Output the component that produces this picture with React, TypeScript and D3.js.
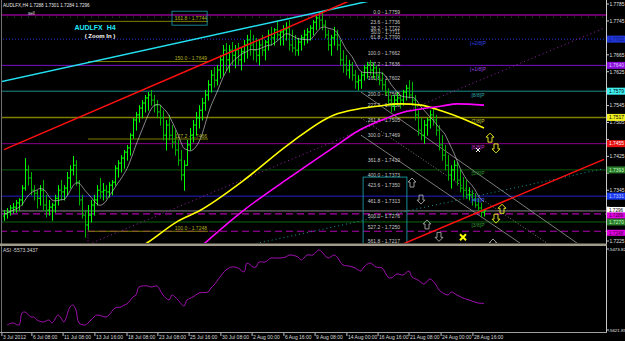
import React, { useEffect } from "react";
import * as d3 from "d3";

// ---- price bars (H4, AUDLFX) ----
const highs = [
  1.7298,1.7303,1.7310,1.7315,1.7322,1.7326,1.7357,1.7421,1.7404,1.7388,
  1.7357,1.7345,1.7357,1.7369,1.7334,1.7322,1.7315,1.7334,1.7357,1.7369,
  1.7357,1.7388,1.7404,1.7426,1.7416,1.7369,1.7334,1.7298,1.7310,1.7322,
  1.7334,1.7357,1.7374,1.7362,1.7357,1.7364,1.7369,1.7404,1.7416,1.7428,
  1.7440,1.7452,1.7480,1.7516,1.7530,1.7546,1.7558,1.7570,1.7577,1.7582,
  1.7570,1.7558,1.7546,1.7534,1.7511,1.7523,1.7499,1.7487,1.7464,1.7440,
  1.7416,1.7464,1.7492,1.7511,1.7530,1.7546,1.7563,1.7582,1.7605,1.7629,
  1.7636,1.7641,1.7664,1.7688,1.7693,1.7688,1.7695,1.7688,1.7693,1.7681,
  1.7700,1.7712,1.7724,1.7712,1.7705,1.7700,1.7712,1.7700,1.7724,1.7731,
  1.7728,1.7747,1.7724,1.7735,1.7742,1.7747,1.7724,1.7712,1.7705,1.7712,
  1.7724,1.7728,1.7735,1.7747,1.7759,1.7766,1.7764,1.7747,1.7724,1.7712,
  1.7731,1.7724,1.7700,1.7676,1.7664,1.7653,1.7648,1.7629,1.7617,1.7624,
  1.7641,1.7648,1.7653,1.7646,1.7641,1.7634,1.7624,1.7605,1.7586,1.7570,
  1.7570,1.7577,1.7570,1.7582,1.7594,1.7605,1.7601,1.7570,1.7534,1.7516,
  1.7511,1.7516,1.7534,1.7539,1.7523,1.7499,1.7475,1.7452,1.7428,1.7404,
  1.7416,1.7412,1.7393,1.7376,1.7369,1.7352,1.7345,1.7338,1.7326,1.7315,
  1.7301,
];
const lows = [
  1.7274,1.7279,1.7286,1.7291,1.7293,1.7298,1.7310,1.7345,1.7357,1.7334,
  1.7322,1.7303,1.7310,1.7298,1.7282,1.7286,1.7274,1.7293,1.7310,1.7322,
  1.7322,1.7334,1.7350,1.7381,1.7357,1.7310,1.7279,1.7234,1.7251,1.7270,
  1.7286,1.7310,1.7326,1.7322,1.7326,1.7329,1.7334,1.7357,1.7376,1.7388,
  1.7397,1.7416,1.7428,1.7468,1.7487,1.7506,1.7516,1.7530,1.7534,1.7546,
  1.7530,1.7516,1.7499,1.7464,1.7440,1.7464,1.7445,1.7428,1.7404,1.7369,
  1.7345,1.7404,1.7440,1.7459,1.7475,1.7492,1.7511,1.7534,1.7558,1.7577,
  1.7589,1.7594,1.7610,1.7617,1.7629,1.7624,1.7641,1.7634,1.7641,1.7629,
  1.7648,1.7657,1.7664,1.7653,1.7648,1.7641,1.7664,1.7653,1.7676,1.7688,
  1.7688,1.7700,1.7688,1.7688,1.7700,1.7676,1.7672,1.7664,1.7664,1.7676,
  1.7688,1.7693,1.7700,1.7712,1.7724,1.7728,1.7724,1.7705,1.7676,1.7664,
  1.7688,1.7676,1.7641,1.7624,1.7617,1.7610,1.7605,1.7586,1.7582,1.7586,
  1.7605,1.7610,1.7617,1.7610,1.7605,1.7594,1.7582,1.7570,1.7546,1.7530,
  1.7534,1.7546,1.7539,1.7546,1.7558,1.7563,1.7546,1.7511,1.7475,1.7464,
  1.7456,1.7475,1.7492,1.7499,1.7475,1.7440,1.7416,1.7393,1.7369,1.7350,
  1.7369,1.7357,1.7341,1.7329,1.7326,1.7322,1.7310,1.7305,1.7293,1.7282,
  1.7284,
];
const closes = [
  1.7289,1.7293,1.7303,1.7305,1.7315,1.7322,1.7350,1.7393,1.7374,1.7345,
  1.7338,1.7326,1.7345,1.7310,1.7298,1.7305,1.7310,1.7326,1.7345,1.7341,
  1.7350,1.7374,1.7393,1.7404,1.7364,1.7322,1.7286,1.7263,1.7286,1.7310,
  1.7322,1.7345,1.7341,1.7345,1.7341,1.7357,1.7364,1.7397,1.7409,1.7421,
  1.7435,1.7445,1.7475,1.7511,1.7523,1.7539,1.7551,1.7563,1.7570,1.7558,
  1.7546,1.7530,1.7516,1.7475,1.7499,1.7475,1.7459,1.7440,1.7416,1.7381,
  1.7404,1.7452,1.7475,1.7499,1.7516,1.7534,1.7551,1.7570,1.7594,1.7617,
  1.7605,1.7629,1.7653,1.7676,1.7653,1.7676,1.7664,1.7676,1.7653,1.7672,
  1.7688,1.7700,1.7688,1.7676,1.7664,1.7688,1.7676,1.7695,1.7712,1.7705,
  1.7724,1.7712,1.7719,1.7724,1.7728,1.7688,1.7681,1.7676,1.7695,1.7705,
  1.7712,1.7719,1.7728,1.7742,1.7752,1.7747,1.7735,1.7712,1.7688,1.7705,
  1.7712,1.7688,1.7653,1.7641,1.7629,1.7641,1.7617,1.7601,1.7605,1.7617,
  1.7634,1.7641,1.7629,1.7634,1.7617,1.7605,1.7594,1.7577,1.7558,1.7546,
  1.7558,1.7563,1.7558,1.7577,1.7586,1.7570,1.7558,1.7523,1.7487,1.7475,
  1.7499,1.7511,1.7523,1.7511,1.7487,1.7452,1.7428,1.7404,1.7381,1.7393,
  1.7404,1.7369,1.7350,1.7345,1.7334,1.7334,1.7322,1.7310,1.7303,1.7293,
  1.7296,
];
const firstOpen = 1.7284;
const header = ["AUDLFX,H4", "1.7288", "1.7301", "1.7284", "1.7296"];

// ---- long moving averages (read at bar indices) ----
const yellowBars = [42, 48, 58, 65, 80, 95, 110, 118, 125, 132, 139, 146, 154, 160];
const yellowVals = [1.7196, 1.7222, 1.7272, 1.7296, 1.7369, 1.7454, 1.7523, 1.7537, 1.7544, 1.7549, 1.7546, 1.7532, 1.7511, 1.7492];
const magentaBars = [62, 80, 95, 110, 118, 126, 132, 139, 146, 151, 160];
const magentaVals = [1.7189, 1.7298, 1.7374, 1.7447, 1.7485, 1.7511, 1.7527, 1.7537, 1.7544, 1.7549, 1.7546];

// ---- ASI indicator ----
const asiBars = [1,3,5,6,7,9,10,11,13,15,16,18,19,20,22,23,24,25,27,28,30,31,34,35,37,39,40,41,43,44,45,48,49,51,52,53,55,56,57,58,60,61,63,65,68,69,70,72,74,76,78,80,81,83,84,85,87,89,90,92,94,95,98,99,100,101,103,104,105,106,108,110,111,113,115,117,119,120,122,124,126,128,129,131,133,135,136,138,140,142,144,145,148,149,151,153,154,156,158,160];
const asiVals = [-5612.7,-5609.0,-5612.7,-5590.8,-5589.0,-5598.1,-5598.1,-5603.6,-5607.2,-5603.6,-5609.0,-5594.4,-5599.9,-5607.2,-5579.8,-5576.2,-5585.3,-5609.0,-5612.7,-5609.0,-5598.1,-5594.4,-5598.1,-5594.4,-5581.6,-5579.8,-5576.2,-5574.3,-5561.5,-5557.9,-5543.3,-5541.4,-5543.3,-5541.4,-5548.7,-5557.9,-5567.0,-5557.9,-5561.5,-5567.0,-5578.0,-5567.0,-5561.5,-5554.2,-5552.4,-5545.1,-5539.6,-5525.0,-5512.2,-5506.7,-5508.5,-5515.8,-5499.4,-5506.7,-5506.7,-5497.6,-5497.6,-5490.3,-5490.3,-5490.3,-5488.4,-5484.8,-5488.4,-5493.9,-5490.3,-5484.8,-5484.8,-5479.3,-5475.6,-5479.3,-5490.3,-5484.8,-5488.4,-5503.1,-5504.9,-5508.5,-5514.0,-5506.7,-5499.4,-5506.7,-5508.5,-5525.0,-5526.8,-5519.5,-5521.3,-5514.0,-5525.0,-5530.5,-5537.8,-5528.6,-5539.6,-5548.7,-5557.9,-5552.4,-5557.9,-5563.4,-5565.2,-5568.8,-5572.5,-5573.3];
const asiName = "ASI";
const asiCurrent = "-5573.3437";
const asiTop = -5473.82;
const asiBottom = -5621.85;

// ---- axes ----
const priceTicks = [1.7785,1.7745,1.7705,1.7665,1.7625,1.7585,1.7545,1.7505,1.7465,1.7425,1.7385,1.7345,1.7305,1.7265,1.7225];
const dateLabels = ["3 Jul 2012","6 Jul 08:00","11 Jul 08:00","13 Jul 16:00","18 Jul 08:00","23 Jul 08:00","25 Jul 16:00","30 Jul 08:00","2 Aug 00:00","6 Aug 16:00","9 Aug 08:00","14 Aug 00:00","16 Aug 16:00","21 Aug 08:00","24 Aug 00:00","28 Aug 16:00"];
const dateBars = [-0.7, 9.3, 19.7, 30.3, 41, 51.3, 61.7, 72.3, 82.7, 93.3, 103.7, 114.3, 124.7, 135, 145.7, 156.3];

// ---- Fibonacci expansion (right) ----
const fibLevels = ["0.0","23.6","38.2","50.0","61.8","100.0","127.2","161.8","200.0","227.2","261.8","300.0","361.8","400.0","423.6","461.8","500.0","527.2","561.8"];
const fibPrices = [1.7759,1.7736,1.7722,1.7711,1.7700,1.7662,1.7636,1.7602,1.7565,1.7539,1.7505,1.7469,1.7410,1.7373,1.7350,1.7313,1.7276,1.7250,1.7217];
// ---- Fibonacci expansion (left) ----
const fib2Levels = ["100.0","127.2","150.0","161.8"];
const fib2Prices = [1.7248,1.7466,1.7649,1.7744];
const fib2Span = [28, 68];

// ---- Murrey math levels ----
const murreyPrices = [1.7702,1.7640,1.7579,1.7517,1.7455,1.7393,1.7331,1.7270];
const murreyLabels = ["[+2/8]P","[+1/8]P","[8/8]P","[7/8]P","[6/8]P","[5/8]P","[4/8]P","[3/8]P"];
const sellPrice = 1.7759;
const stopDotsPrice = 1.7754;
const bidPrice = 1.7296;
const dashedPrices = [1.7289, 1.7248];

// ---- trend lines [bar, price] ----
const trendCyan = [[-2, 1.7600], [125, 1.7797]];
const trendRed1 = [[0, 1.7441], [116, 1.7795]];
const trendRed2 = [[132, 1.7215], [200, 1.7418]];
const trendPurpleDot = [[0, 1.7133], [200, 1.7728]];
const trendTealDot = [[84, 1.7219], [200, 1.7396]];
const channelA = [[119, 1.7577], [191, 1.7220]];
const channelB = [[119, 1.7516], [181, 1.7220]];
const channelC = [[119, 1.7475], [172, 1.7220]];

// ---- signal arrows ----
const yellowArrowBars = [162, 164, 166, 164];
const yellowArrowPrices = [1.7468, 1.7445, 1.7300, 1.7279];
const yellowArrowUp = [true, false, true, false];
const greyArrowBars = [136, 139, 141, 145, 163];
const greyArrowPrices = [1.7362, 1.7324, 1.7263, 1.7236, 1.7218];
const greyArrowUp = [true, false, true, false, true];
const crossBars = [153, 158];
const crossPrices = [1.7234, 1.7440];

const FONT = "Liberation Sans, Arial, sans-serif";

export default function App() {
  useEffect(() => {
    document.body.style.margin = "0";
    document.body.style.background = "#000";
  }, []);

  const x = d3.scaleLinear().domain([0, 160]).range([4, 484]);
  const y = d3.scaleLinear().domain([1.7225, 1.7785]).range([241, 4]);
  const ya = d3.scaleLinear().domain([asiBottom, asiTop]).range([330, 249]);
  const fmt = d3.format(".4f");

  const opens = closes.map((c, i) => (i === 0 ? firstOpen : closes[i - 1]));
  const sma = closes.map((_, i) => d3.mean(closes.slice(Math.max(0, i - 7), i + 1)) as number);

  const line = d3.line<number[]>().x((d) => x(d[0])).y((d) => y(d[1]));
  const curve = d3.line<number[]>().x((d) => x(d[0])).y((d) => y(d[1])).curve(d3.curveMonotoneX);
  const asiLine = d3.line<number[]>().x((d) => x(d[0])).y((d) => ya(d[1])).curve(d3.curveCatmullRom);

  const murreyColors = ["#2233dd", "#7a10c8", "#1e8c8c", "#7f7f00", "#8b008b", "#0c5a0c", "#2222c8", "#0c6a0c"];
  const murreyText = ["#3344ee", "#9a40e0", "#33aaaa", "#c8c830", "#cc33cc", "#339933", "#4455ff", "#339933"];
  const axisBg = ["#2035d8", "#8a10d8", "#40f0f0", "#f0f020", "#e81010", "#2a7a2a", "#1a3af0", "#2a7a2a"];
  const axisFg = ["#0a1a70", "#e0c0ff", "#000", "#000", "#fff", "#c0ffc0", "#c0c8ff", "#c0ffc0"];

  const coloredAxis = [...murreyPrices, bidPrice, ...dashedPrices];
  const plainTicks = priceTicks.filter((p) => coloredAxis.every((q) => Math.abs(y(p) - y(q)) > 5));

  const arrow = (cx: number, cy: number, up: boolean, color: string, key: string) => {
    const s = up ? 1 : -1;
    const pts = [[0, -5], [4, -1], [2, -1], [2, 4], [-2, 4], [-2, -1], [-4, -1]]
      .map((p) => `${cx + p[0]},${cy + s * p[1]}`)
      .join(" ");
    return <polygon key={key} points={pts} fill="none" stroke={color} strokeWidth={1} />;
  };

  return (
    <svg width={625} height={341} style={{ position: "absolute", left: 0, top: 0, background: "#000" }} fontFamily={FONT}>
      <defs>
        <clipPath id="mainClip"><rect x={2} y={2} width={604} height={241} /></clipPath>
        <clipPath id="asiClip"><rect x={2} y={247} width={604} height={85} /></clipPath>
      </defs>
      <rect x={0} y={0} width={625} height={341} fill="#000" />

      <g clipPath="url(#mainClip)">
        {/* horizontal levels */}
        <line x1={0} x2={606} y1={y(sellPrice)} y2={y(sellPrice)} stroke="#d000d0" strokeWidth={1.2} />
        <line x1={0} x2={606} y1={y(stopDotsPrice)} y2={y(stopDotsPrice)} stroke="#1f5f1f" strokeWidth={1} strokeDasharray="1,6" />
        {murreyPrices.map((p, i) => (
          <line key={"m" + i} x1={0} x2={606} y1={y(p)} y2={y(p)} stroke={murreyColors[i]}
            strokeWidth={i === 3 ? 1.5 : 1} strokeDasharray={i === 0 ? "1,2" : undefined} />
        ))}
        <line x1={0} x2={606} y1={y(bidPrice)} y2={y(bidPrice)} stroke="#8a8a8a" strokeWidth={1} />
        {dashedPrices.map((p, i) => (
          <line key={"d" + i} x1={0} x2={606} y1={y(p)} y2={y(p)} stroke="#b000b0" strokeWidth={1.2} strokeDasharray="7,4" />
        ))}

        {/* left fibonacci expansion */}
        {fib2Prices.map((p, i) => (
          <g key={"f2" + i}>
            <line x1={x(fib2Span[0])} x2={x(fib2Span[1])} y1={y(p)} y2={y(p)} stroke="#7f7f00" strokeWidth={1} />
            <text x={x(fib2Span[1]) - 1} y={y(p) - 1.5} fontSize={5} fill="#b0b020" textAnchor="end">
              {fib2Levels[i]} - {fmt(p)}
            </text>
          </g>
        ))}
        <rect x={x(56)} y={y(1.7768)} width={x(67.7) - x(56)} height={y(1.7735) - y(1.7768)} fill="none" stroke="#1aa0b0" strokeWidth={0.8} />
        <line x1={x(28)} x2={x(28)} y1={y(1.7262)} y2={243} stroke="#a000a0" strokeDasharray="1,2" />

        {/* trend lines */}
        <path d={line(trendPurpleDot as number[][]) || ""} stroke="#9a20b0" strokeWidth={1} strokeDasharray="1,3" fill="none" />
        <path d={line(trendTealDot as number[][]) || ""} stroke="#1a9a9a" strokeWidth={1} strokeDasharray="1,3" fill="none" />
        <path d={line(channelA as number[][]) || ""} stroke="#9a9a9a" strokeWidth={0.8} fill="none" />
        <path d={line(channelB as number[][]) || ""} stroke="#9a9a9a" strokeWidth={0.8} strokeDasharray="1,2" fill="none" />
        <path d={line(channelC as number[][]) || ""} stroke="#9a9a9a" strokeWidth={0.8} fill="none" />

        {/* right fib text */}
        {fibPrices.map((p, i) => (
          <text key={"f" + i} x={400} y={y(p) - 1} fontSize={5} fill="#c8c8c8" textAnchor="end">
            {fibLevels[i]} - {fmt(p)}
          </text>
        ))}
        <rect x={x(119.7)} y={y(1.7376)} width={x(134.3) - x(119.7)} height={y(1.7210) - y(1.7376)} fill="none" stroke="#1a9aa8" strokeWidth={0.9} />

        {/* price bars */}
        {highs.map((h, i) => {
          const cx = Math.round(x(i)) + 0.5;
          const up = closes[i] >= opens[i];
          const col = up ? "#00ff00" : "#00b400";
          return (
            <g key={"b" + i} stroke={col} strokeWidth={1}>
              <line x1={cx} x2={cx} y1={y(h)} y2={y(lows[i]) + 0.5} />
              <line x1={cx - 1.5} x2={cx} y1={y(opens[i])} y2={y(opens[i])} />
              <line x1={cx} x2={cx + 1.5} y1={y(closes[i])} y2={y(closes[i])} />
            </g>
          );
        })}
        <path d={curve(sma.map((v, i) => [i, v])) || ""} stroke="#c0c0c0" strokeWidth={0.7} fill="none" />

        {/* long MAs */}
        <path d={curve(yellowBars.map((b, i) => [b, yellowVals[i]])) || ""} stroke="#ffff00" strokeWidth={1.6} fill="none" />
        <path d={curve(magentaBars.map((b, i) => [b, magentaVals[i]])) || ""} stroke="#ff00ff" strokeWidth={1.6} fill="none" />

        {/* trend lines over bars */}
        <path d={line(trendCyan as number[][]) || ""} stroke="#22e0f0" strokeWidth={1.5} fill="none" />
        <path d={line(trendRed1 as number[][]) || ""} stroke="#ff1010" strokeWidth={1.5} fill="none" />
        <path d={line(trendRed2 as number[][]) || ""} stroke="#ff1010" strokeWidth={1.5} fill="none" />

        {/* murrey labels */}
        {murreyPrices.map((p, i) => (
          <text key={"ml" + i} x={x(158)} y={y(p) + 5.5} fontSize={5} fill={murreyText[i]} textAnchor="middle">
            {murreyLabels[i]}
          </text>
        ))}

        {/* arrows & marks */}
        {yellowArrowBars.map((b, i) => arrow(x(b), y(yellowArrowPrices[i]), yellowArrowUp[i], "#e0e020", "ya" + i))}
        {greyArrowBars.map((b, i) => arrow(x(b), y(greyArrowPrices[i]), greyArrowUp[i], "#9a9a9a", "ga" + i))}
        <g stroke="#ffff00" strokeWidth={2}>
          <line x1={x(crossBars[0]) - 3} x2={x(crossBars[0]) + 3} y1={y(crossPrices[0]) - 3} y2={y(crossPrices[0]) + 3} />
          <line x1={x(crossBars[0]) - 3} x2={x(crossBars[0]) + 3} y1={y(crossPrices[0]) + 3} y2={y(crossPrices[0]) - 3} />
        </g>
        <g stroke="#ffffff" strokeWidth={1}>
          <line x1={x(crossBars[1]) - 2} x2={x(crossBars[1]) + 2} y1={y(crossPrices[1]) - 2} y2={y(crossPrices[1]) + 2} />
          <line x1={x(crossBars[1]) - 2} x2={x(crossBars[1]) + 2} y1={y(crossPrices[1]) + 2} y2={y(crossPrices[1]) - 2} />
        </g>

        {/* texts */}
        <text x={3} y={7} fontSize={4.6} fill="#e8e8e8">
          {header[0]} {header[1]} {header[2]} {header[3]} {header[4]}
        </text>
        <text x={28} y={15} fontSize={4.6} fill="#d0d0d0">sell</text>
        <text x={95} y={30} fontSize={7} fill="#20e8f8" fontWeight="bold" textAnchor="middle">AUDLFX{"\u00a0\u00a0"}H4</text>
        <text x={100} y={38} fontSize={6} fill="#ffffff" fontWeight="bold" textAnchor="middle">( Zoom In )</text>
      </g>

      {/* frame */}
      <line x1={1.5} x2={1.5} y1={0} y2={333} stroke="#707070" />
      <line x1={606.5} x2={606.5} y1={0} y2={333} stroke="#c8c8c8" />
      <rect x={0} y={243.5} width={607} height={2.5} fill="#a09a8a" />
      <line x1={0} x2={607} y1={332.5} y2={332.5} stroke="#a0a0a0" />

      {/* price axis */}
      {priceTicks.map((p, i) => (
        <line key={"ptl" + i} x1={606} x2={609} y1={y(p)} y2={y(p)} stroke="#c8c8c8" />
      ))}
      {plainTicks.map((p, i) => (
        <text key={"pt" + i} x={609.5} y={y(p) + 1.8} fontSize={4.9} fill="#e0e0e0">{fmt(p)}</text>
      ))}
      {murreyPrices.map((p, i) => (
        <g key={"al" + i}>
          <rect x={607} y={y(p) - 3.5} width={18} height={7} fill={axisBg[i]} />
          <text x={609} y={y(p) + 1.8} fontSize={4.9} fill={axisFg[i]}>{fmt(p)}</text>
        </g>
      ))}
      <rect x={607} y={y(bidPrice) - 4} width={18} height={6} fill="#ffffff" />
      <text x={609} y={y(bidPrice) + 1} fontSize={4.6} fill="#000">{fmt(bidPrice)}</text>
      {dashedPrices.map((p, i) => (
        <g key={"dl" + i}>
          <rect x={607} y={y(p) - 1.5} width={18} height={6} fill="#e000e0" />
          <text x={609} y={y(p) + 3.3} fontSize={4.6} fill="#400040">{fmt(p)}</text>
        </g>
      ))}

      {/* ASI panel */}
      <g clipPath="url(#asiClip)">
        <path d={asiLine(asiBars.map((b, i) => [b, asiVals[i]])) || ""} stroke="#a010b0" strokeWidth={1} fill="none" />
      </g>
      <text x={3} y={252} fontSize={5} fill="#d8d8d8">{asiName} {asiCurrent}</text>
      <text x={608.5} y={ya(asiTop) + 1.8} fontSize={4.4} fill="#e0e0e0">{asiTop.toFixed(2)}</text>
      <text x={608.5} y={ya(asiBottom) + 1.8} fontSize={4.4} fill="#e0e0e0">{asiBottom.toFixed(2)}</text>
      <line x1={606} x2={609} y1={ya(asiTop)} y2={ya(asiTop)} stroke="#c8c8c8" />
      <line x1={606} x2={609} y1={ya(asiBottom)} y2={ya(asiBottom)} stroke="#c8c8c8" />

      {/* date axis */}
      {dateLabels.map((t, i) => (
        <g key={"dt" + i}>
          <line x1={x(dateBars[i])} x2={x(dateBars[i])} y1={333} y2={336} stroke="#c0c0c0" />
          <text x={x(dateBars[i]) + 1} y={339} fontSize={5} fill="#d8d8d8">{t}</text>
        </g>
      ))}
    </svg>
  );
}
